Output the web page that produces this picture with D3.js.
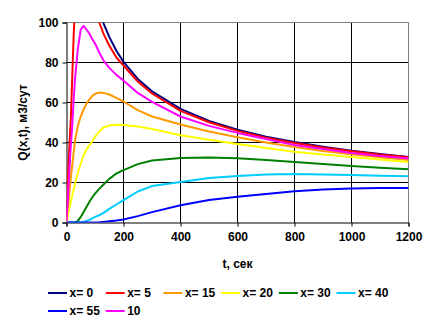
<!DOCTYPE html>
<html>
<head>
<meta charset="utf-8">
<script src="https://cdn.jsdelivr.net/npm/d3@7"></script>
<style>
  html, body { margin: 0; padding: 0; background: #fff; }
  svg { display: block; font-family: Arial, "Liberation Sans", sans-serif; }
</style>
</head>
<body>
<svg id="chart" width="436" height="325"></svg>
<script>
// time points, sec
const times = [0,5,10,15,20,25,30,40,50,60,70,80,90,100,115,130,150,175,200,250,300,400,500,600,700,800,900,1000,1100,1200];

// Q(x,t), m3/day for each series
const q_x0  = [null,null,null,null,null,null,null,null,null,null,null,null,null,113.6,105.9,99.6,92.8,85.9,80.3,71.8,65.6,56.8,50.8,46.4,42.9,40.2,37.9,35.9,34.3,32.8];
const q_x5  = [0,22,38,51,72,93,110,128,132,130,125,119,113,107.5,100,94.3,88.5,82.5,78.5,70.5,64.5,55.8,50.1,45.8,42.4,39.7,37.5,35.6,34.0,32.6];
const q_x15 = [0,6,15,22,28.5,35,41,48.5,53,56.5,59.3,61.5,63.2,64.3,65,64.8,64,62.3,60.5,56.2,53,49,45.5,42.6,40,37.7,35.8,34.1,32.6,31.3];
const q_x20 = [0,3.5,7,10.5,13.5,16.5,19.5,25,29.5,33.5,36.5,38.5,40.5,42.8,45.5,47.5,48.5,48.9,48.8,48,46.8,43.6,41.4,39.2,37.2,35.4,34,32.8,31.5,30.3];
const q_x30 = [0,0,0,0,0,0,0,0.8,2.8,5.2,7.8,10.2,12.5,14.4,16.8,19,21.8,24.5,26.2,29.2,31,32.3,32.5,32.1,31.2,30.2,29.2,28.3,27.4,26.6];
const q_x40 = [0,0,0,0,0,0,0,0,0,0.3,0.8,1.3,2,2.8,3.6,4.8,6.8,9,11.2,15.5,18.2,20.3,22.2,23.3,24,24.2,24,23.7,23.4,23.1];
const q_x55 = [0,0,0,0,0,0,0,0,0,0,0,0,0,0,0.1,0.3,0.6,1,1.5,3.2,5.2,8.6,11.2,12.9,14.3,15.6,16.5,17,17.2,17.3];
const q_x10 = [0,12,26,38,48,61,72,87,96.5,98.3,96.5,94.5,91.8,89.5,85,81,77.3,73.8,71,64.8,60.3,53,48.3,44.8,41.8,38.7,36.8,34.8,33.3,32];

const seriesNames  = ["x= 0","x= 5","x= 15","x= 20","x= 30","x= 40","x= 55","10"];
const seriesColors = ["#000080","#FF0000","#FF9900","#FFFF00","#008000","#00CCFF","#0000FF","#FF00FF"];
const seriesValues = [q_x0,q_x5,q_x15,q_x20,q_x30,q_x40,q_x55,q_x10];

const xTicks = [0,200,400,600,800,1000,1200];
const yTicks = [0,20,40,60,80,100];
const xTitle = "t, сек";
const yTitle = "Q(x,t), м3/сут";

const svg = d3.select("#chart");
const L = 66.5, R = 408.5, T = 22.5, B = 222.5;
const x = d3.scaleLinear().domain([0,1200]).range([L,R]);
const y = d3.scaleLinear().domain([0,100]).range([B,T]);

// gridlines
const g = svg.append("g");
g.selectAll("line.vg").data(xTicks.filter(t => t > 0 && t < 1200)).join("line")
  .attr("x1", d => x(d)).attr("x2", d => x(d)).attr("y1", T).attr("y2", B)
  .attr("stroke", "#000").attr("stroke-width", 1);
g.selectAll("line.hg").data(yTicks.filter(t => t > 0 && t < 100)).join("line")
  .attr("x1", L).attr("x2", R).attr("y1", d => y(d)).attr("y2", d => y(d))
  .attr("stroke", "#000").attr("stroke-width", 1);
// plot border top/right grey
g.append("path").attr("d", `M${L},${T}H${R}V${B}`).attr("fill","none").attr("stroke","#808080").attr("stroke-width",1);

// axes
const xAxis = d3.axisBottom(x).tickValues(xTicks).tickSize(4).tickPadding(6).tickFormat(d3.format("d"));
const yAxis = d3.axisLeft(y).tickValues(yTicks).tickSize(4).tickPadding(4).tickFormat(d3.format("d"));
const gx = svg.append("g").attr("transform", `translate(0,${B})`).call(xAxis);
const gy = svg.append("g").attr("transform", `translate(${L},0)`).call(yAxis);
[gx, gy].forEach(a => {
  a.select(".domain").attr("stroke", "#000").attr("stroke-width", 1);
  a.selectAll(".tick line").attr("stroke", "#000");
  a.selectAll("text").attr("font-size", "12px").attr("font-weight", "bold").attr("fill", "#000")
    .attr("font-family", "Arial, 'Liberation Sans', sans-serif");
});

// clip
svg.append("clipPath").attr("id", "clip").append("rect")
  .attr("x", L).attr("y", T).attr("width", R - L).attr("height", B - T);

const line = d3.line()
  .defined(d => d[1] != null)
  .x(d => x(d[0])).y(d => y(d[1]));

const lines = svg.append("g").attr("clip-path", "url(#clip)");
seriesValues.forEach((vals, i) => {
  const pts = times.map((t, k) => [t, vals[k]]);
  lines.append("path").attr("d", line(pts))
    .attr("fill", "none").attr("stroke", seriesColors[i]).attr("stroke-width", 2)
    .attr("stroke-linejoin", "round");
});

// axis titles
svg.append("text").attr("x", (L + R) / 2).attr("y", 268).attr("text-anchor", "middle")
  .attr("font-size", "12px").attr("font-weight", "bold").text(xTitle);
svg.append("text").attr("transform", `translate(27,${(T + B) / 2}) rotate(-90)`)
  .attr("text-anchor", "middle").attr("font-size", "12px").attr("font-weight", "bold").text(yTitle);

// legend
const leg = svg.append("g");
seriesNames.forEach((name, i) => {
  const col = i % 6, row = Math.floor(i / 6);
  const lx = 48 + col * 57.7, ly = 293 + row * 18;
  leg.append("line").attr("x1", lx).attr("x2", lx + 19).attr("y1", ly).attr("y2", ly)
    .attr("stroke", seriesColors[i]).attr("stroke-width", 2);
  leg.append("text").attr("x", lx + 21.5).attr("y", ly).attr("dy", "0.36em")
    .attr("font-size", "12px").attr("font-weight", "bold").text(name);
});
</script>
</body>
</html>
